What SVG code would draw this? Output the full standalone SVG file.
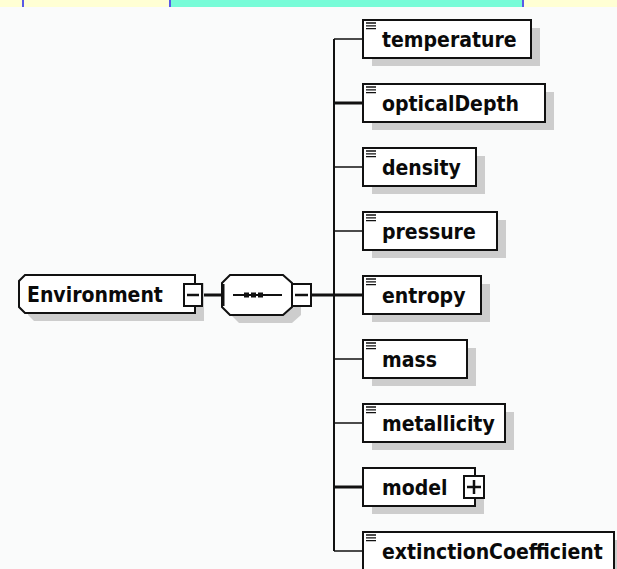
<svg xmlns="http://www.w3.org/2000/svg" width="617" height="569" viewBox="0 0 617 569">
  <style>
    .bg { fill: #fafbfb; }
    .shadow { fill: #cdcdcd; }
    .box { fill: #ffffff; stroke: #111111; stroke-width: 2; }
    .lbl { font-family: "DejaVu Sans Condensed", "DejaVu Sans", Verdana, sans-serif; font-stretch: condensed; font-weight: bold; font-size: 21px; fill: #0a0a0a; }
    .wire { stroke: #111111; stroke-width: 1.5; fill: none; }
    .thick { stroke-width: 3; }
    .btn { fill: #ffffff; stroke: #111111; stroke-width: 2; }
    .sign { stroke: #111111; stroke-width: 2.5; fill: none; }
    .icon { stroke: #111111; stroke-width: 1.3; fill: none; }
  </style>
  <defs>
    <!-- simple-content marker drawn in the top-left corner of leaf elements -->
    <path id="leafIcon" class="icon" d="M0 0h10M0 2.8h10M0 5.6h10"/>
  </defs>

  <rect class="bg" x="0" y="0" width="617" height="569"/>

  <!-- header strip -->
  <g id="header">
    <rect x="0" y="0" width="617" height="7" fill="#ffffd4"/>
    <rect x="171" y="0" width="352" height="7" fill="#78fcd8"/>
    <rect x="22" y="0" width="2" height="7" fill="#5a5ae6"/>
    <rect x="169" y="0" width="2" height="7" fill="#5a5ae6"/>
    <rect x="522" y="0" width="2" height="7" fill="#5a5ae6"/>
  </g>

  <!-- connectors -->
  <g id="connectors">
    <line class="wire thick" x1="202" y1="295" x2="222" y2="295"/>
    <line class="wire thick" x1="311" y1="295" x2="334" y2="295"/>
    <line class="wire" style="stroke-width:2" x1="334" y1="39" x2="334" y2="551"/>
    <line class="wire" x1="334" y1="39" x2="363" y2="39"/>
    <line class="wire thick" x1="334" y1="103" x2="363" y2="103"/>
    <line class="wire" x1="334" y1="167" x2="363" y2="167"/>
    <line class="wire" x1="334" y1="231" x2="363" y2="231"/>
    <line class="wire thick" x1="334" y1="295" x2="363" y2="295"/>
    <line class="wire" x1="334" y1="359" x2="363" y2="359"/>
    <line class="wire" x1="334" y1="423" x2="363" y2="423"/>
    <line class="wire thick" x1="334" y1="487" x2="363" y2="487"/>
    <line class="wire" x1="334" y1="551" x2="363" y2="551"/>
  </g>

  <!-- root element -->
  <g id="Environment">
    <path class="shadow" d="M34 283H204V321H34L28 315V289Z"/>
    <path class="box" d="M25 275H195V313H25L19 307V281Z"/>
    <text class="lbl" x="27" y="302">Environment</text>
    <rect class="btn" x="184" y="284" width="18" height="22"/>
    <line class="sign" x1="187" y1="295" x2="199" y2="295"/>
  </g>

  <!-- sequence compositor -->
  <g id="sequence">
    <path class="shadow" d="M231 291L239 283H292L301 291V315L292 323H239L231 315Z"/>
    <path class="box" d="M222 283L230 275H283L292 283V307L283 315H230L222 307Z"/>
    <line x1="223" y1="284" x2="223" y2="306" stroke="#111" stroke-width="3"/>
    <line x1="233" y1="295" x2="282" y2="295" stroke="#111" stroke-width="2"/>
    <rect x="244" y="292.5" width="5" height="5" fill="#111"/>
    <rect x="251" y="292.5" width="5" height="5" fill="#111"/>
    <rect x="258" y="292.5" width="5" height="5" fill="#111"/>
    <rect class="btn" x="292" y="284" width="19" height="22"/>
    <line class="sign" x1="295" y1="295" x2="308" y2="295"/>
  </g>

  <!-- child elements -->
  <g id="temperature">
    <rect class="shadow" x="372" y="28" width="168" height="38"/>
    <rect class="box" x="363" y="20" width="168" height="38"/>
    <use href="#leafIcon" x="366" y="23"/>
    <text class="lbl" x="382" y="47">temperature</text>
  </g>
  <g id="opticalDepth">
    <rect class="shadow" x="372" y="92" width="182" height="38"/>
    <rect class="box" x="363" y="84" width="182" height="38"/>
    <use href="#leafIcon" x="366" y="87"/>
    <text class="lbl" x="382" y="111">opticalDepth</text>
  </g>
  <g id="density">
    <rect class="shadow" x="372" y="156" width="113" height="38"/>
    <rect class="box" x="363" y="148" width="113" height="38"/>
    <use href="#leafIcon" x="366" y="151"/>
    <text class="lbl" x="382" y="175">density</text>
  </g>
  <g id="pressure">
    <rect class="shadow" x="372" y="220" width="134" height="38"/>
    <rect class="box" x="363" y="212" width="134" height="38"/>
    <use href="#leafIcon" x="366" y="215"/>
    <text class="lbl" x="382" y="239">pressure</text>
  </g>
  <g id="entropy">
    <rect class="shadow" x="372" y="284" width="118" height="38"/>
    <rect class="box" x="363" y="276" width="118" height="38"/>
    <use href="#leafIcon" x="366" y="279"/>
    <text class="lbl" x="382" y="303">entropy</text>
  </g>
  <g id="mass">
    <rect class="shadow" x="372" y="348" width="104" height="38"/>
    <rect class="box" x="363" y="340" width="104" height="38"/>
    <use href="#leafIcon" x="366" y="343"/>
    <text class="lbl" x="382" y="367">mass</text>
  </g>
  <g id="metallicity">
    <rect class="shadow" x="372" y="412" width="142" height="38"/>
    <rect class="box" x="363" y="404" width="142" height="38"/>
    <use href="#leafIcon" x="366" y="407"/>
    <text class="lbl" x="382" y="431">metallicity</text>
  </g>
  <g id="model">
    <rect class="shadow" x="372" y="476" width="112" height="38"/>
    <rect class="box" x="363" y="468" width="112" height="38"/>
    <text class="lbl" x="382" y="495">model</text>
    <rect class="btn" x="464" y="476" width="20" height="22"/>
    <path class="sign" d="M467 487H481M474 480V494"/>
  </g>
  <g id="extinctionCoefficient">
    <rect class="shadow" x="372" y="540" width="251" height="38"/>
    <rect class="box" x="363" y="532" width="251" height="38"/>
    <use href="#leafIcon" x="366" y="535"/>
    <text class="lbl" x="382" y="559">extinctionCoefficient</text>
  </g>
</svg>
